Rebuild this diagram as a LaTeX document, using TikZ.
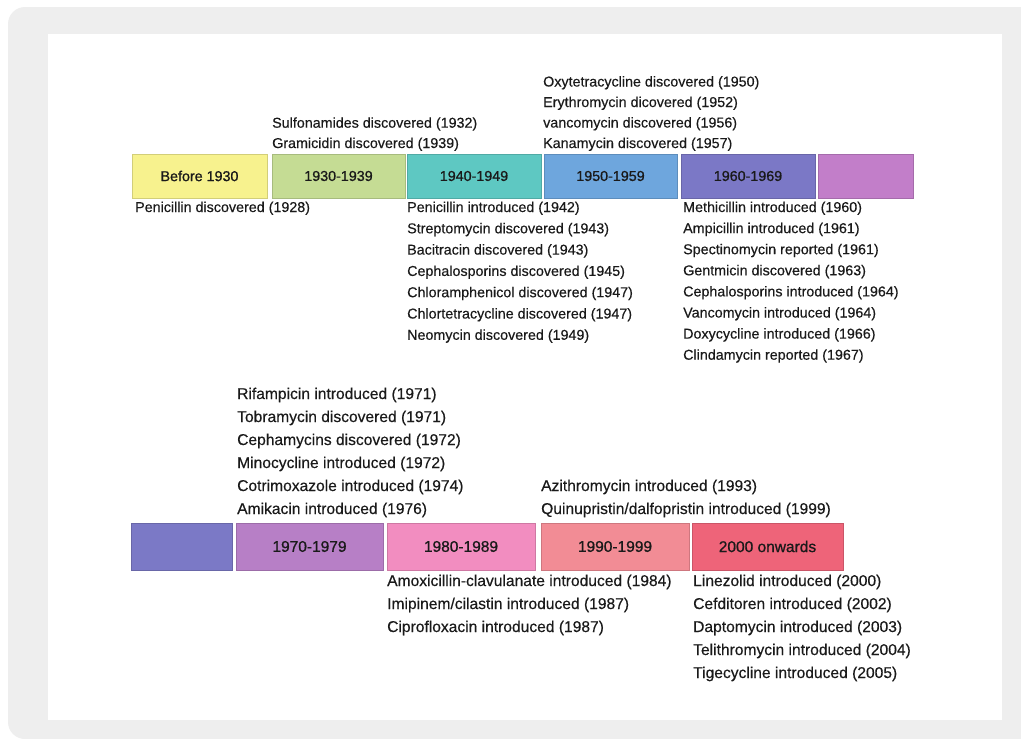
\documentclass[tikz,border=0pt]{standalone}
\usepackage{fontspec}
\setmainfont{Liberation Sans}[FakeBold=0.35]
\newfontfamily\labelfont{Liberation Sans}[FakeBold=0.9]
\definecolor{framegray}{HTML}{EEEEEE}
\definecolor{txt}{HTML}{1A1A1A}
\definecolor{cA}{HTML}{F7F28E}
\definecolor{cB}{HTML}{C5DC94}
\definecolor{cC}{HTML}{5EC8C2}
\definecolor{cD}{HTML}{6EA6DD}
\definecolor{cE}{HTML}{7B78C6}
\definecolor{cF}{HTML}{C27EC9}
\definecolor{cG}{HTML}{7B79C6}
\definecolor{cH}{HTML}{B77FC6}
\definecolor{cI}{HTML}{F28DC0}
\definecolor{cJ}{HTML}{F28C95}
\definecolor{cK}{HTML}{EE6479}
\begin{document}
\begin{tikzpicture}[x=1pt,y=-1pt,
  period/.style={rectangle, inner sep=0, line width=0.8pt, text=txt},
  toprow/.style={period, minimum height=44, font=\labelfont\fontsize{14.3}{17}\selectfont},
  botrow/.style={period, minimum height=47, font=\labelfont\fontsize{15.5}{18}\selectfont},
  evt/.style={anchor=base west, inner sep=0, text=txt, font=\fontsize{14.3}{17}\selectfont},
  evtb/.style={anchor=base west, inner sep=0, text=txt, font=\fontsize{15.6}{18}\selectfont}]
\useasboundingbox (0,0) rectangle (1021,739);
\clip (0,0) rectangle (1021,739);
\fill[white] (0,0) rectangle (1021,739);
\fill[framegray, rounded corners=17] (8,7) rectangle (1060,739);
\fill[white] (48,34) rectangle (1002,720);

% top row
\node[toprow, fill=cA, draw=cA!85!black, minimum width=135] (b1) at (199.5,176) {Before 1930};
\node[toprow, fill=cB, draw=cB!85!black, minimum width=133] (b2) at (338.5,176) {1930-1939};
\node[toprow, fill=cC, draw=cC!85!black, minimum width=134] (b3) at (474,176) {1940-1949};
\node[toprow, fill=cD, draw=cD!85!black, minimum width=133] (b4) at (610.5,176) {1950-1959};
\node[toprow, fill=cE, draw=cE!85!black, minimum width=134] (b5) at (748,176) {1960-1969};
\node[toprow, fill=cF, draw=cF!85!black, minimum width=95] (b6) at (865.5,176) {};

% bottom row
\node[botrow, fill=cG, draw=cG!85!black, minimum width=101] (c1) at (181.5,546.5) {};
\node[botrow, fill=cH, draw=cH!85!black, minimum width=147] (c2) at (309.5,546.5) {1970-1979};
\node[botrow, fill=cI, draw=cI!85!black, minimum width=148] (c3) at (461,546.5) {1980-1989};
\node[botrow, fill=cJ, draw=cJ!85!black, minimum width=148] (c4) at (615,546.5) {1990-1999};
\node[botrow, fill=cK, draw=cK!85!black, minimum width=151] (c5) at (767.5,546.5) {2000 onwards};

% top row events
\node[evt] (p0) at (135,212) {Penicillin discovered (1928)};
\foreach \t [count=\k from 0] in {Sulfonamides discovered (1932), Gramicidin discovered (1939)}
  \node[evt] (s\k) at (272,127.7+20.3*\k) {\t};
\foreach \t [count=\k from 0] in {Oxytetracycline discovered (1950), Erythromycin dicovered (1952), vancomycin discovered (1956), Kanamycin discovered (1957)}
  \node[evt] (o\k) at (543,86.5+20.5*\k) {\t};
\foreach \t [count=\k from 0] in {Penicillin introduced (1942), Streptomycin discovered (1943), Bacitracin discovered (1943), Cephalosporins discovered (1945), Chloramphenicol discovered (1947), Chlortetracycline discovered (1947), Neomycin discovered (1949)}
  \node[evt] (f\k) at (407,212+21.3*\k) {\t};
\foreach \t [count=\k from 0] in {Methicillin introduced (1960), Ampicillin introduced (1961), Spectinomycin reported (1961), Gentmicin discovered (1963), Cephalosporins introduced (1964), Vancomycin introduced (1964), Doxycycline introduced (1966), Clindamycin reported (1967)}
  \node[evt] (m\k) at (683,212+21.1*\k) {\t};

% bottom row events
\foreach \t [count=\k from 0] in {Rifampicin introduced (1971), Tobramycin discovered (1971), Cephamycins discovered (1972), Minocycline introduced (1972), Cotrimoxazole introduced (1974), Amikacin introduced (1976)}
  \node[evtb] (r\k) at (237,399+23*\k) {\t};
\foreach \t [count=\k from 0] in {Azithromycin introduced (1993), Quinupristin/dalfopristin introduced (1999)}
  \node[evtb] (q\k) at (541,491+23*\k) {\t};
\foreach \t [count=\k from 0] in {Amoxicillin-clavulanate introduced (1984), Imipinem/cilastin introduced (1987), Ciprofloxacin introduced (1987)}
  \node[evtb] (e\k) at (387,586+23*\k) {\t};
\foreach \t [count=\k from 0] in {Linezolid introduced (2000), Cefditoren introduced (2002), Daptomycin introduced (2003), Telithromycin introduced (2004), Tigecycline introduced (2005)}
  \node[evtb] (l\k) at (693,586+23*\k) {\t};
\end{tikzpicture}
\end{document}
